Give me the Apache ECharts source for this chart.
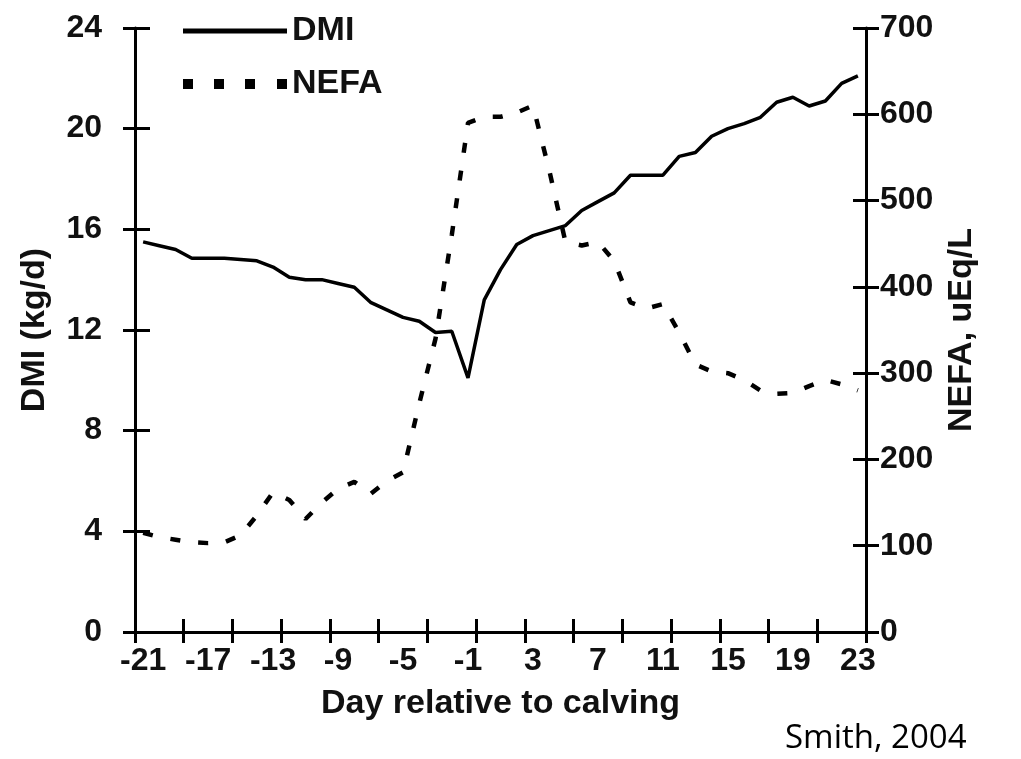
<!DOCTYPE html>
<html>
<head>
<meta charset="utf-8">
<script src="https://cdn.jsdelivr.net/npm/echarts@6/dist/echarts.min.js"></script>
<style>
html,body{margin:0;padding:0;background:#fff;}
#chart{width:1021px;height:759px;}
</style>
</head>
<body>
<div id="chart"></div>
<script>
// Days relative to calving (-21 .. 23)
const days = [-21,-20,-19,-18,-17,-16,-15,-14,-13,-12,-11,-10,-9,-8,-7,-6,-5,-4,-3,-2,-1,0,1,2,3,4,5,6,7,8,9,10,11,12,13,14,15,16,17,18,19,20,21,22,23];
// Dry matter intake, kg/d
const dmi = [15.5,15.35,15.2,14.85,14.85,14.85,14.8,14.75,14.5,14.1,14.0,14.0,13.85,13.7,13.1,12.8,12.5,12.35,11.9,11.95,10.1,13.2,14.4,15.4,15.75,15.95,16.15,16.75,17.1,17.45,18.15,18.15,18.15,18.9,19.05,19.7,20.0,20.2,20.45,21.05,21.25,20.9,21.1,21.8,22.1];
// NEFA, uEq/L
const nefa = [115,110,107,104,103,104,112,135,162,153,131,150,166,174,160,175,185,265,340,460,590,597,597,602,610,535,452,448,452,430,382,375,380,347,310,302,300,292,280,276,277,285,292,287,280];
// Axis ticks
const dmiAxis = {min:0, max:24, interval:4};
const nefaAxis = {min:0, max:700, interval:100};

const chart = echarts.init(document.getElementById('chart'), null, {renderer:'canvas'});
const txt = '#111';
const font = 'Liberation Sans, Arial, sans-serif';
const tickFont = 32;
const nameFont = 34;
const axLine = {show:true, onZero:false, lineStyle:{color:'#000', width:3}};
const noLine = {show:false};

const option = {
  backgroundColor:'#fff',
  animation:false,
  grid:{left:135, right:155, top:28, bottom:127, containLabel:false},
  legend:{
    orient:'vertical', left:178, top:9, itemGap:19,
    itemWidth:104, itemHeight:36, symbolKeepAspect:true,
    textStyle:{fontFamily:font, fontWeight:'bold', fontSize:34, color:txt},
    data:[
      {name:'DMI', icon:'path://M0,0H104V5H0Z', itemStyle:{color:'#000'}},
      {name:'NEFA', icon:'path://M0,0h10v10h-10zM31,0h10v10h-10zM62,0h10v10h-10zM94,0h10v10h-10z', itemStyle:{color:'#000'}}
    ]
  },
  xAxis:[{
    type:'category', data:days, boundaryGap:true,
    axisLine:axLine,
    axisTick:{show:true, interval:2, length:11, lineStyle:{color:'#000', width:3}},
    axisLabel:{interval:3, margin:13, fontFamily:font, fontWeight:'bold', fontSize:tickFont, color:txt},
    name:'Day relative to calving', nameLocation:'middle', nameGap:55,
    nameTextStyle:{fontFamily:font, fontWeight:'bold', fontSize:nameFont, color:txt},
    splitLine:{show:false}
  },{
    type:'category', data:days, boundaryGap:true, position:'bottom',
    axisLine:noLine,
    axisTick:{show:true, inside:true, interval:2, length:13, lineStyle:{color:'#000', width:3}},
    axisLabel:{show:false}, splitLine:{show:false}
  }],
  yAxis:[{
    type:'value', position:'left', min:dmiAxis.min, max:dmiAxis.max, interval:dmiAxis.interval,
    axisLine:axLine,
    axisTick:{show:true, length:12, lineStyle:{color:'#000', width:3}},
    axisLabel:{margin:33, fontFamily:font, fontWeight:'bold', fontSize:tickFont, color:txt},
    name:'DMI (kg/d)', nameLocation:'middle', nameGap:83,
    nameTextStyle:{fontFamily:font, fontWeight:'bold', fontSize:nameFont, color:txt},
    splitLine:{show:false}
  },{
    type:'value', position:'right', min:nefaAxis.min, max:nefaAxis.max, interval:nefaAxis.interval,
    axisLine:axLine,
    axisTick:{show:true, length:13, lineStyle:{color:'#000', width:3}},
    axisLabel:{margin:14, fontFamily:font, fontWeight:'bold', fontSize:tickFont, color:txt},
    name:'NEFA, uEq/L', nameLocation:'middle', nameGap:76,
    nameTextStyle:{fontFamily:font, fontWeight:'bold', fontSize:nameFont, color:txt},
    splitLine:{show:false}
  },{
    type:'value', position:'left', min:dmiAxis.min, max:dmiAxis.max, interval:dmiAxis.interval,
    axisLine:noLine, axisLabel:{show:false}, splitLine:{show:false},
    axisTick:{show:true, inside:true, length:15, lineStyle:{color:'#000', width:3}}
  },{
    type:'value', position:'right', min:nefaAxis.min, max:nefaAxis.max, interval:nefaAxis.interval,
    axisLine:noLine, axisLabel:{show:false}, splitLine:{show:false},
    axisTick:{show:true, inside:true, length:13, lineStyle:{color:'#000', width:3}}
  }],
  series:[{
    name:'DMI', type:'line', data:dmi, xAxisIndex:0, yAxisIndex:0,
    symbol:'none', lineStyle:{color:'#000', width:3.5}, itemStyle:{color:'#000'}, z:3
  },{
    name:'NEFA', type:'line', data:nefa, xAxisIndex:0, yAxisIndex:1,
    symbol:'none', lineStyle:{color:'#000', width:4.5, type:[10,18]}, itemStyle:{color:'#000'}, z:2
  }],
  graphic:[{
    type:'text', left:785, top:722,
    style:{text:'Smith, 2004', font:'33px "Open Sans", sans-serif', fill:'#000'}
  }]
};
chart.setOption(option);
</script>
</body>
</html>
